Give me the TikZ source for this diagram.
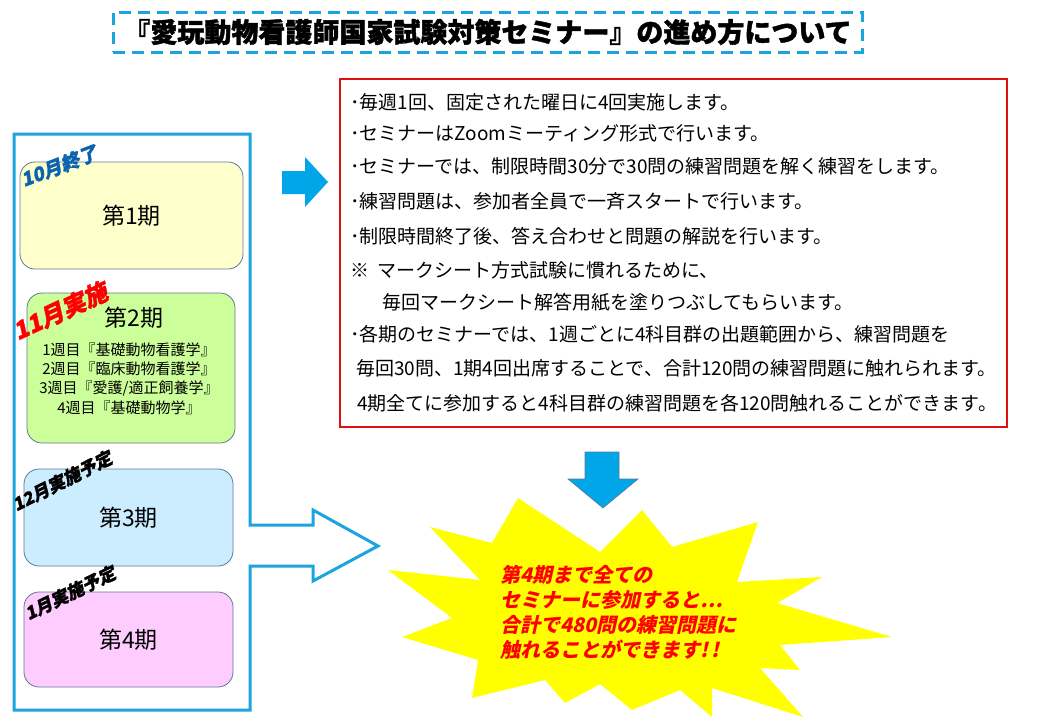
\documentclass[tikz,border=0pt]{standalone}
\usepackage{fontspec}
\newfontfamily\jp{Noto Sans CJK JP}
\newfontfamily\jpsl{Noto Sans CJK JP}[FakeSlant=0.22]
\newcommand\jfs[2]{\fontsize{#1}{#2}\selectfont}
\definecolor{frameblue}{HTML}{1CA4DF}
\definecolor{arrowblue}{HTML}{00A6E8}
\definecolor{boxedge}{HTML}{5E7898}
\definecolor{p1fill}{HTML}{FFFFCC}
\definecolor{p2fill}{HTML}{CCFF99}
\definecolor{p3fill}{HTML}{CCECFF}
\definecolor{p4fill}{HTML}{FFCCFF}
\definecolor{lblblue}{HTML}{0A63B0}
\definecolor{infored}{HTML}{E01010}
\definecolor{burstyellow}{HTML}{FFFF00}
\begin{document}
\begin{tikzpicture}[x=1pt,y=-1pt,
  period/.style={draw=boxedge, line width=0.8pt, rounded corners=15pt, minimum width=#1, inner sep=0pt, font=\jp\jfs{23}{26}},
  info/.style={anchor=west, inner sep=0pt, font=\jp\jfs{19}{22}},
  lbl/.style={inner sep=0pt},
]
\fill[white] (0,0) rectangle (1040,720);
\useasboundingbox (0,0) rectangle (1040,720);

% title
\node[draw=frameblue, line width=3pt, dash pattern=on 12pt off 7pt,
      minimum width=749pt, minimum height=40pt, inner sep=0pt,
      font=\jp\bfseries\addfontfeature{FakeBold=1.5}\jfs{27}{30}] (title) at (487.5,32) {『愛玩動物看護師国家試験対策セミナー』の進め方について};

% left frame with arrow
\draw[frameblue, line width=3pt, line join=miter]
  (14,134) -- (250,134) -- (250,525) -- (313,525) -- (313,510) -- (378,546)
  -- (313,581) -- (313,566) -- (250,566) -- (250,710) -- (14,710) -- cycle;

% period boxes
\node[period=223pt, fill=p1fill, minimum height=107pt] (p1) at (131.5,215.5) {第1期};
\node[period=208pt, fill=p2fill, minimum height=150pt] (p2) at (131,368) {};
\node[inner sep=0pt, font=\jp\jfs{23}{26}] (p2t) at (134,318) {第2期};
\node[inner sep=0pt, align=center, font=\jp\jfs{15}{19.3}] (p2w) at (129,378.5)
  {1週目『基礎動物看護学』\\2週目『臨床動物看護学』\\3週目『愛護/適正飼養学』\\4週目『基礎動物学』};
\node[period=209pt, fill=p3fill, minimum height=97pt] (p3) at (128.5,517.5) {第3期};
\node[period=209pt, fill=p4fill, minimum height=95pt] (p4) at (128.5,639.5) {第4期};

% status labels
\node[lbl, rotate=21, text=lblblue, font=\jpsl\bfseries\addfontfeature{FakeBold=1.5}\jfs{19}{19}] (l1) at (59,166) {10月終了};
\node[lbl, rotate=25, text=red, font=\jpsl\bfseries\addfontfeature{FakeBold=1.5}\jfs{24}{24}] (l2) at (60,311) {11月実施};
\node[lbl, rotate=27, text=black, font=\jpsl\bfseries\addfontfeature{FakeBold=1.5}\jfs{17.5}{17.5}] (l3) at (62,481) {12月実施予定};
\node[lbl, rotate=26, text=black, font=\jpsl\bfseries\addfontfeature{FakeBold=1.5}\jfs{17.5}{17.5}] (l4) at (70,593) {1月実施予定};

% right block arrow
\fill[arrowblue] (282,171) -- (305,171) -- (305,157) -- (328,182) -- (305,207) -- (305,194) -- (282,194) -- cycle;

% info box
\node[draw=infored, line width=1.5pt, minimum width=667pt, minimum height=348pt, inner sep=0pt] (box) at (673.5,253) {};
\node[info] (t1) at (350,102) {･毎週1回、固定された曜日に4回実施します。};
\node[info] (t2) at (350,133) {･セミナーはZoomミーティング形式で行います。};
\node[info] (t3) at (350,166) {･セミナーでは、制限時間30分で30問の練習問題を解く練習をします。};
\node[info] (t4) at (350,201) {･練習問題は、参加者全員で一斉スタートで行います。};
\node[info] (t5) at (350,236) {･制限時間終了後、答え合わせと問題の解説を行います。};
\node[info] (t6) at (350,270) {※\hspace{8pt}マークシート方式試験に慣れるために、};
\node[info] (t7) at (382,302) {毎回マークシート解答用紙を塗りつぶしてもらいます。};
\node[info] (t8) at (350,334) {･各期のセミナーでは、1週ごとに4科目群の出題範囲から、練習問題を};
\node[info] (t9) at (356,368) {毎回30問、1期4回出席することで、合計120問の練習問題に触れられます。};
\node[info] (t10) at (357,403) {4期全てに参加すると4科目群の練習問題を各120問触れることができます。};

% down arrow
\filldraw[fill=arrowblue, draw=boxedge, line width=0.6pt]
  (585,452) -- (619,452) -- (619,479) -- (638,479) -- (603,508) -- (568,479) -- (585,479) -- cycle;

% starburst
\fill[burstyellow] (518,498) -- (600,552) -- (642,510) -- (672,547) -- (758,522) -- (737,582)
  -- (822,577) -- (777,603) -- (892,637) -- (780,645) -- (800,670) -- (760,668) -- (803,717)
  -- (712,688) -- (712,717) -- (680,690) -- (632,710) -- (600,684) -- (565,703) -- (545,680)
  -- (472,698) -- (478,660) -- (402,637) -- (452,618) -- (388,570) -- (480,580) -- (430,527)
  -- (492,543) -- cycle;
\node[anchor=north west, inner sep=0pt, align=left, text=red, font=\jpsl\bfseries\jfs{20}{25}] (burst) at (500,565)
  {第4期まで全ての\\セミナーに参加すると…\\合計で480問の練習問題に\\触れることができます!\,!};
\end{tikzpicture}
\end{document}
